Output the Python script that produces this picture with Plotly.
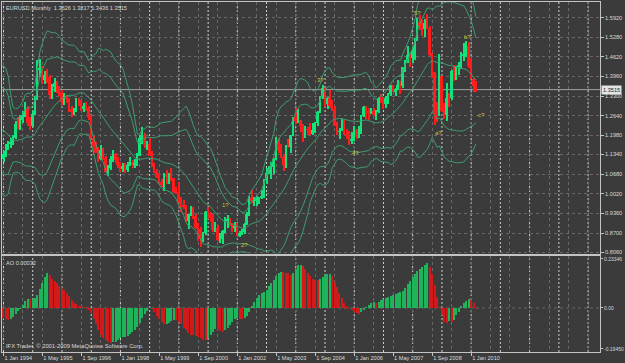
import numpy as np
import pandas as pd
import plotly.graph_objects as go
from plotly.subplots import make_subplots

# ---------------- data (monthly EURUSD) ----------------
# lead-in history Jan 1991 - Dec 1993 (off-screen, feeds the indicators)
lead_open0 = 1.320
lead_close = [1.300, 1.280, 1.140, 1.130, 1.120, 1.090, 1.120, 1.120, 1.180, 1.180, 1.210, 1.290,
              1.210, 1.190, 1.190, 1.190, 1.240, 1.290, 1.330, 1.390, 1.330, 1.250, 1.220, 1.210,
              1.210, 1.190, 1.210, 1.240, 1.210, 1.150, 1.120, 1.160, 1.200, 1.170, 1.140, 1.120]
lead_high = [1.345, 1.320, 1.285, 1.160, 1.150, 1.130, 1.135, 1.150, 1.190, 1.200, 1.230, 1.300,
             1.290, 1.230, 1.210, 1.210, 1.250, 1.300, 1.350, 1.410, 1.420, 1.340, 1.260, 1.240,
             1.240, 1.220, 1.230, 1.260, 1.250, 1.220, 1.160, 1.170, 1.210, 1.200, 1.180, 1.150]
lead_low = [1.285, 1.265, 1.130, 1.110, 1.100, 1.070, 1.075, 1.100, 1.110, 1.160, 1.170, 1.200,
            1.200, 1.180, 1.170, 1.175, 1.185, 1.230, 1.280, 1.320, 1.310, 1.240, 1.200, 1.190,
            1.180, 1.170, 1.180, 1.200, 1.200, 1.140, 1.100, 1.110, 1.150, 1.150, 1.120, 1.100]

# visible bars Jan 1994 - Mar 2010
close_px = [
    1.135, 1.160, 1.170, 1.175, 1.190, 1.235, 1.230, 1.250, 1.265, 1.290, 1.240, 1.230,  # 1994
    1.270, 1.320, 1.420, 1.425, 1.385, 1.400, 1.395, 1.335, 1.360, 1.375, 1.355, 1.345,  # 1995
    1.310, 1.325, 1.320, 1.285, 1.275, 1.280, 1.315, 1.310, 1.285, 1.295, 1.290, 1.260,  # 1996
    1.190, 1.160, 1.150, 1.120, 1.150, 1.125, 1.075, 1.090, 1.120, 1.135, 1.115, 1.100,  # 1997
    1.085, 1.095, 1.080, 1.100, 1.110, 1.100, 1.105, 1.130, 1.190, 1.200, 1.165, 1.170,  # 1998
    1.130, 1.097, 1.077, 1.057, 1.042, 1.032, 1.067, 1.059, 1.068, 1.054, 1.009, 1.007,  # 1999
    0.971, 0.964, 0.957, 0.911, 0.933, 0.952, 0.927, 0.888, 0.882, 0.849, 0.870, 0.939,  # 2000
    0.937, 0.920, 0.879, 0.888, 0.847, 0.849, 0.877, 0.912, 0.912, 0.900, 0.890, 0.890,  # 2001
    0.860, 0.869, 0.872, 0.901, 0.933, 0.986, 0.978, 0.979, 0.986, 0.988, 0.992, 1.049,  # 2002
    1.073, 1.078, 1.091, 1.118, 1.181, 1.149, 1.124, 1.098, 1.165, 1.159, 1.199, 1.259,  # 2003
    1.247, 1.248, 1.230, 1.197, 1.219, 1.217, 1.202, 1.217, 1.241, 1.276, 1.327, 1.356,  # 2004
    1.303, 1.324, 1.297, 1.287, 1.229, 1.210, 1.212, 1.233, 1.203, 1.199, 1.179, 1.184,  # 2005
    1.215, 1.192, 1.212, 1.263, 1.292, 1.279, 1.276, 1.281, 1.267, 1.276, 1.325, 1.320,  # 2006
    1.302, 1.323, 1.336, 1.365, 1.345, 1.353, 1.367, 1.364, 1.426, 1.449, 1.467, 1.459,  # 2007
    1.486, 1.518, 1.579, 1.560, 1.555, 1.575, 1.560, 1.468, 1.409, 1.273, 1.271, 1.397,  # 2008
    1.280, 1.267, 1.325, 1.324, 1.415, 1.403, 1.426, 1.434, 1.464, 1.472, 1.499, 1.432,  # 2009
    1.3865, 1.3626, 1.3515]                                                              # 2010
high_px = [
    1.145, 1.170, 1.180, 1.190, 1.200, 1.245, 1.260, 1.265, 1.280, 1.310, 1.295, 1.260,
    1.280, 1.330, 1.450, 1.455, 1.430, 1.415, 1.420, 1.400, 1.370, 1.390, 1.380, 1.365,
    1.350, 1.340, 1.335, 1.325, 1.295, 1.290, 1.325, 1.325, 1.315, 1.305, 1.310, 1.295,
    1.265, 1.195, 1.175, 1.160, 1.165, 1.155, 1.130, 1.100, 1.130, 1.150, 1.140, 1.125,
    1.110, 1.105, 1.105, 1.110, 1.125, 1.115, 1.120, 1.140, 1.200, 1.225, 1.205, 1.180,
    1.190, 1.145, 1.105, 1.085, 1.070, 1.050, 1.072, 1.080, 1.070, 1.090, 1.055, 1.025,
    1.041, 0.990, 0.980, 0.965, 0.935, 0.960, 0.956, 0.935, 0.905, 0.890, 0.875, 0.945,
    0.959, 0.942, 0.935, 0.906, 0.896, 0.870, 0.881, 0.924, 0.932, 0.921, 0.903, 0.906,
    0.903, 0.878, 0.885, 0.905, 0.939, 0.995, 1.016, 0.992, 0.994, 0.992, 1.014, 1.052,
    1.087, 1.094, 1.108, 1.122, 1.193, 1.188, 1.168, 1.135, 1.166, 1.186, 1.200, 1.261,
    1.290, 1.286, 1.248, 1.236, 1.229, 1.227, 1.240, 1.239, 1.242, 1.281, 1.331, 1.367,
    1.356, 1.326, 1.349, 1.316, 1.297, 1.243, 1.221, 1.253, 1.250, 1.218, 1.213, 1.209,
    1.230, 1.218, 1.230, 1.266, 1.298, 1.297, 1.289, 1.291, 1.289, 1.282, 1.328, 1.336,
    1.328, 1.330, 1.341, 1.368, 1.368, 1.356, 1.384, 1.380, 1.427, 1.452, 1.497, 1.478,
    1.493, 1.524, 1.591, 1.602, 1.584, 1.587, 1.604, 1.566, 1.475, 1.410, 1.309, 1.472,
    1.398, 1.305, 1.374, 1.341, 1.418, 1.434, 1.430, 1.444, 1.478, 1.508, 1.514, 1.513,
    1.458, 1.390, 1.3817]
low_px = [
    1.110, 1.125, 1.150, 1.155, 1.165, 1.185, 1.220, 1.215, 1.240, 1.260, 1.230, 1.215,
    1.225, 1.265, 1.315, 1.395, 1.370, 1.370, 1.375, 1.320, 1.320, 1.345, 1.340, 1.330,
    1.300, 1.300, 1.305, 1.275, 1.260, 1.265, 1.275, 1.295, 1.280, 1.275, 1.280, 1.250,
    1.185, 1.140, 1.140, 1.110, 1.115, 1.115, 1.070, 1.060, 1.080, 1.110, 1.105, 1.090,
    1.075, 1.075, 1.070, 1.075, 1.095, 1.090, 1.090, 1.095, 1.130, 1.170, 1.155, 1.150,
    1.128, 1.093, 1.071, 1.055, 1.035, 1.025, 1.011, 1.035, 1.036, 1.045, 1.003, 1.000,
    0.970, 0.939, 0.951, 0.907, 0.884, 0.928, 0.916, 0.885, 0.844, 0.823, 0.839, 0.865,
    0.916, 0.906, 0.875, 0.873, 0.843, 0.838, 0.834, 0.870, 0.887, 0.895, 0.875, 0.875,
    0.859, 0.856, 0.862, 0.868, 0.897, 0.926, 0.971, 0.962, 0.961, 0.968, 0.983, 0.986,
    1.035, 1.067, 1.051, 1.068, 1.116, 1.139, 1.121, 1.078, 1.087, 1.155, 1.140, 1.196,
    1.237, 1.238, 1.208, 1.176, 1.190, 1.199, 1.199, 1.198, 1.206, 1.228, 1.272, 1.320,
    1.294, 1.286, 1.289, 1.281, 1.228, 1.199, 1.187, 1.212, 1.200, 1.187, 1.164, 1.170,
    1.178, 1.185, 1.189, 1.204, 1.258, 1.252, 1.250, 1.268, 1.262, 1.250, 1.274, 1.305,
    1.287, 1.290, 1.303, 1.331, 1.342, 1.331, 1.351, 1.337, 1.358, 1.409, 1.441, 1.428,
    1.440, 1.452, 1.515, 1.553, 1.533, 1.528, 1.555, 1.464, 1.390, 1.233, 1.244, 1.262,
    1.277, 1.252, 1.246, 1.292, 1.317, 1.380, 1.383, 1.400, 1.420, 1.448, 1.462, 1.423,
    1.386, 1.344, 1.3436]

price_ticks = [1.5920, 1.5280, 1.4620, 1.3960, 1.3300, 1.2640, 1.1980,
               1.1340, 1.0680, 1.0020, 0.9360, 0.8700, 0.8060]
ao_ticks = [0.23346, 0.0, -0.19450]
ao_tick_text = ["0.23346", "0.00", "-0.19450"]
time_label_dates = ["1994-01-01", "1995-05-01", "1996-09-01", "1998-01-01", "1999-05-01",
                    "2000-09-01", "2002-01-01", "2003-05-01", "2004-09-01", "2006-01-01",
                    "2007-05-01", "2008-09-01", "2010-01-01"]

wave_text = ["1?", "2?", "3?", "4?", "5?", "a?", "b?", "c?"]
wave_date = ["2001-08-10", "2002-04-03", "2004-11-04", "2006-01-13",
             "2008-03-07", "2008-11-22", "2009-11-18", "2010-05-12"]
wave_price = [0.964, 0.830, 1.384, 1.139, 1.609, 1.206, 1.528, 1.266]

title_text = "EURUSD,Monthly  1.3626 1.3817 1.3436 1.3515"
ao_label = "AO 0.00032"
copyright_text = "IFX Trader, \u00a9 2001-2009 MetaQuotes Software Corp."

# ---------------- derived series ----------------
c_all = np.array(lead_close + close_px)
h_all = np.array(lead_high + high_px)
l_all = np.array(lead_low + low_px)
o_all = np.concatenate([[lead_open0], c_all[:-1]])
dates_all = pd.date_range("1991-01-01", periods=len(c_all), freq="MS")
n_lead = len(lead_close)

cs = pd.Series(c_all)
bb_mid = cs.rolling(20).mean()
bb_sd = cs.rolling(20).std(ddof=0)
median = pd.Series((h_all + l_all) / 2.0)
ao = (median.rolling(5).mean() - median.rolling(34).mean()).values

vis = slice(n_lead, None)
line_from = slice(n_lead - 1, None)

d_vis = dates_all[vis]
o_v, h_v, l_v, c_v = o_all[vis], h_all[vis], l_all[vis], c_all[vis]
bull = c_v >= o_v

BG = "#3b3b3b"
TXT = "#dadada"
GRID = "#686868"
FRAME = "#c4c4c4"
UP = "#12e27a"
DN = "#ff1c1c"
BAND = "#3f9c70"
FONT = "Liberation Sans, Arial, sans-serif"
MONTH_MS = 30.44 * 86400000

cols = [UP if b else DN for b in bull]

fig = make_subplots(rows=2, cols=1, shared_xaxes=True)

# candle wicks
fig.add_trace(go.Bar(x=d_vis, y=h_v - l_v, base=l_v, width=[0.42 * MONTH_MS] * len(d_vis),
                     marker=dict(color=cols, line=dict(width=0)), hoverinfo="skip"), row=1, col=1)
# candle bodies
body = np.maximum(np.abs(c_v - o_v), 0.0018)
fig.add_trace(go.Bar(x=d_vis, y=body, base=np.minimum(o_v, c_v), width=[0.8 * MONTH_MS] * len(d_vis),
                     marker=dict(color=cols, line=dict(width=0)), hoverinfo="skip"), row=1, col=1)

# Bollinger-style envelopes (20, 2 and 3 deviations) + middle
dl = dates_all[line_from]
for k in [3, 2, 0, -2, -3]:
    yv = (bb_mid + k * bb_sd).values[line_from]
    fig.add_trace(go.Scatter(x=dl, y=yv, mode="lines", line=dict(color=BAND, width=1),
                             hoverinfo="skip"), row=1, col=1)

# Awesome oscillator
ao_v = ao[vis]
ao_prev = ao[n_lead - 1:-1]
ao_cols = ["#1fb35c" if a > p else "#d21a1a" for a, p in zip(ao_v, ao_prev)]
fig.add_trace(go.Bar(x=d_vis, y=ao_v, width=[0.45 * MONTH_MS] * len(d_vis),
                     marker=dict(color=ao_cols, line=dict(width=0)), hoverinfo="skip"), row=2, col=1)

x_range = ["1993-12-13", "2014-05-30"]
axis_font = dict(family=FONT, size=5.6, color=TXT)
ao_font = dict(family=FONT, size=5.0, color=TXT)

fig.update_layout(
    width=625, height=363, margin=dict(l=1, r=23, t=2, b=11),
    paper_bgcolor=BG, plot_bgcolor=BG, showlegend=False,
    barmode="overlay", bargap=0, hovermode=False,
    font=dict(family=FONT, size=6, color=TXT),
    xaxis=dict(domain=[0, 1], range=x_range, type="date", showline=True, mirror=True,
               linecolor=FRAME, linewidth=1, showticklabels=False, ticks="",
               dtick="M8", tick0="1994-01-01", showgrid=True, gridcolor=GRID,
               griddash="3px,3px", gridwidth=1, zeroline=False),
    xaxis2=dict(domain=[0, 1], range=x_range, type="date", showline=True, mirror=True,
                linecolor=FRAME, linewidth=1, tickmode="array", tickvals=time_label_dates,
                tickformat="%-d %b %Y", ticks="outside", ticklen=3, tickcolor=FRAME,
                ticklabelposition="outside right", tickfont=axis_font,
                showgrid=False,
                minor=dict(dtick="M8", tick0="1994-01-01", showgrid=True, gridcolor=GRID,
                           griddash="3px,3px", ticks=""),
                zeroline=False),
    yaxis=dict(domain=[0.2814, 1], range=[0.8012, 1.6457], side="right",
               tickvals=price_ticks, ticktext=[f"{v:.4f}" for v in price_ticks],
               ticks="outside", ticklen=3, tickcolor=FRAME, tickfont=axis_font,
               showline=True, mirror=True, linecolor=FRAME, linewidth=1,
               showgrid=True, gridcolor=GRID, griddash="3px,3px", gridwidth=1, zeroline=False),
    yaxis2=dict(domain=[0, 0.2743], range=[-0.2096, 0.2477], side="right",
                tickvals=ao_ticks, ticktext=ao_tick_text,
                ticks="outside", ticklen=2, tickcolor=FRAME, tickfont=ao_font,
                showline=True, mirror=True, linecolor=FRAME, linewidth=1,
                showgrid=False, zeroline=False),
)

shapes = []
# yearly period separators
for yr in range(1994, 2015):
    shapes.append(dict(type="line", xref="x", yref="paper", x0=f"{yr}-01-01", x1=f"{yr}-01-01",
                       y0=0, y1=1, line=dict(color="#d2d2d2", width=1, dash="2px,2px"),
                       layer="below"))
# AO zero level
shapes.append(dict(type="line", xref="x2 domain", yref="y2", x0=0, x1=1, y0=0, y1=0,
                   line=dict(color=GRID, width=1, dash="3px,3px"), layer="below"))
# current price line
shapes.append(dict(type="line", xref="x domain", yref="y", x0=0, x1=1,
                   y0=close_px[-1], y1=close_px[-1],
                   line=dict(color="#a2a2a2", width=1), layer="below"))
fig.update_layout(shapes=shapes)

ann = [
    dict(text=title_text, xref="paper", yref="paper", x=0, y=1, xanchor="left", yanchor="top",
         xshift=2, yshift=-1, showarrow=False, font=dict(family=FONT, size=5.6, color=TXT)),
    dict(text=ao_label, xref="paper", yref="y2 domain", x=0, y=1, xanchor="left", yanchor="top",
         xshift=2, yshift=-2, showarrow=False, font=dict(family=FONT, size=5.6, color=TXT)),
    dict(text=copyright_text, xref="paper", yref="y2 domain", x=0, y=0, xanchor="left",
         yanchor="bottom", xshift=2, yshift=1, showarrow=False,
         font=dict(family=FONT, size=5.8, color=TXT)),
    dict(text=f"{close_px[-1]:.4f}", xref="paper", yref="y", x=1, y=close_px[-1],
         xanchor="left", yanchor="middle", xshift=1, showarrow=False, bgcolor="#e4e4e4",
         borderpad=1, font=dict(family=FONT, size=5.6, color="#222222")),
]
for t, d, p in zip(wave_text, wave_date, wave_price):
    ann.append(dict(text=t, xref="x", yref="y", x=d, y=p, showarrow=False,
                    font=dict(family=FONT, size=6, color="#c9c23a")))
fig.update_layout(annotations=ann)

fig.write_html("out.html", config={"displayModeBar": False})
